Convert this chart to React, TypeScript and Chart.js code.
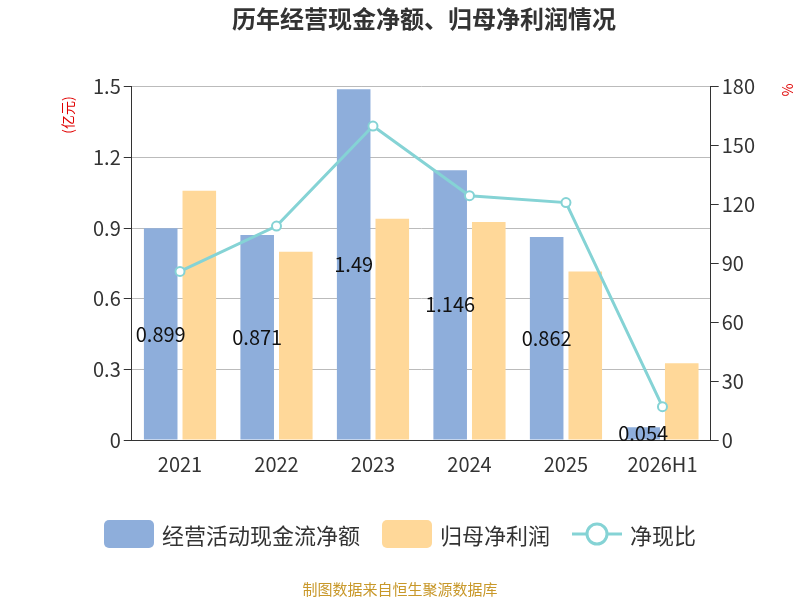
import React, { useEffect, useRef } from "react";
import { Chart, registerables } from "chart.js";
Chart.register(...registerables);

const categories = ["2021", "2022", "2023", "2024", "2025", "2026H1"];
const cashFlow = [0.899, 0.871, 1.49, 1.146, 0.862, 0.054];
const netProfit = [1.059, 0.8, 0.94, 0.926, 0.716, 0.326];
const ratio = [85.9, 109, 160, 124.5, 121, 17];
const leftTicks = [0, 0.3, 0.6, 0.9, 1.2, 1.5];

const labelPlugin = {
  id: "barLabels",
  afterDatasetsDraw(chart: any) {
    const ctx = chart.ctx;
    const meta = chart.getDatasetMeta(0);
    ctx.save();
    ctx.font = "20px 'Noto Sans CJK SC', 'Noto Sans', sans-serif";
    ctx.fillStyle = "#111";
    ctx.textAlign = "center";
    ctx.textBaseline = "middle";
    meta.data.forEach((bar: any, i: number) => {
      const y = (bar.y + bar.base) / 2;
      ctx.fillText(String(cashFlow[i]), bar.x, y);
    });
    ctx.restore();
    ctx.save();
    ctx.fillStyle = "#e00000";
    ctx.font = "14px 'Noto Sans CJK SC', sans-serif";
    ctx.translate(68, 115);
    ctx.rotate(-Math.PI / 2);
    ctx.textAlign = "center";
    ctx.textBaseline = "middle";
    ctx.fillText("(亿元)", 0, 0);
    ctx.restore();
    ctx.save();
    ctx.fillStyle = "#e00000";
    ctx.font = "14px 'Noto Sans CJK SC', sans-serif";
    ctx.translate(787, 90);
    ctx.rotate(Math.PI / 2);
    ctx.textAlign = "center";
    ctx.textBaseline = "middle";
    ctx.fillText("%", 0, 0);
    ctx.restore();
  },
};

export default function App() {
  const ref = useRef<HTMLCanvasElement>(null);
  useEffect(() => {
    const font = "'Noto Sans CJK SC', 'Noto Sans', sans-serif";
    const chart = new Chart(ref.current!, {
      type: "bar",
      data: {
        labels: categories,
        datasets: [
          { type: "bar", label: "经营活动现金流净额", data: cashFlow, backgroundColor: "#8eaedb", yAxisID: "y", barPercentage: 0.87, categoryPercentage: 0.8, order: 2 },
          { type: "bar", label: "归母净利润", data: netProfit, backgroundColor: "#ffd899", yAxisID: "y", barPercentage: 0.87, categoryPercentage: 0.8, order: 2 },
          { type: "line", label: "净现比", data: ratio, borderColor: "#85d3d5", backgroundColor: "#fff", borderWidth: 3, pointRadius: 4.5, pointBorderWidth: 2, pointBackgroundColor: "#fff", pointBorderColor: "#85d3d5", yAxisID: "y1", order: 1, tension: 0 } as any,
        ],
      },
      options: {
        animation: false,
        responsive: false,
        layout: { padding: { left: 90, right: 42, top: 4, bottom: 120 } },
        plugins: {
          legend: { display: false },
          tooltip: { enabled: false },
          title: { display: true, text: "历年经营现金净额、归母净利润情况", font: { family: font, size: 24, weight: "bold" }, color: "#333", padding: { top: 0, bottom: 54 } },
        },
        scales: {
          x: {
            grid: { display: false, drawTicks: true, tickLength: 8, offset: true },
            border: { color: "#333" },
            ticks: { color: "#333", font: { family: font, size: 20 }, padding: 4 },
          },
          y: {
            min: 0, max: 1.5,
            afterBuildTicks: (s: any) => { s.ticks = leftTicks.map((v) => ({ value: v })); },
            grid: { color: "#bbb", drawTicks: true, tickLength: 8, tickColor: "#333" },
            border: { color: "#333" },
            ticks: { color: "#333", font: { family: font, size: 20 }, callback: (v: any) => (v === 0 ? "0" : Number(v).toFixed(1)) },
          },
          y1: {
            position: "right", min: 0, max: 180,
            ticks: { stepSize: 30, color: "#333", font: { family: font, size: 20 } },
            grid: { drawOnChartArea: false, tickLength: 8, tickColor: "#333" },
            border: { color: "#333" },
          },
        },
      } as any,
      plugins: [labelPlugin],
    });
    return () => chart.destroy();
  }, []);
  const font = "'Noto Sans CJK SC', 'Noto Sans', sans-serif";
  const item = { display: "flex", alignItems: "center", gap: 8, fontSize: 22, color: "#333" } as const;
  return (
    <div style={{ position: "absolute", left: 0, top: 0, width: 800, height: 600, fontFamily: font }}>
      <canvas ref={ref} width={800} height={600} />
      <div style={{ position: "absolute", top: 518, left: 0, width: 800, display: "flex", justifyContent: "center", gap: 22 }}>
        <div style={item}><span style={{ width: 50, height: 28, background: "#8eaedb", borderRadius: 5, display: "inline-block" }} />经营活动现金流净额</div>
        <div style={item}><span style={{ width: 50, height: 28, background: "#ffd899", borderRadius: 5, display: "inline-block" }} />归母净利润</div>
        <div style={item}>
          <svg width="50" height="28"><line x1="0" y1="14" x2="50" y2="14" stroke="#85d3d5" strokeWidth="3" /><circle cx="25" cy="14" r="10" fill="#fff" stroke="#85d3d5" strokeWidth="3" /></svg>
          净现比
        </div>
      </div>
      <div style={{ position: "absolute", top: 578, left: 0, width: 800, textAlign: "center", fontSize: 15, color: "#c8982a" }}>制图数据来自恒生聚源数据库</div>
    </div>
  );
}
